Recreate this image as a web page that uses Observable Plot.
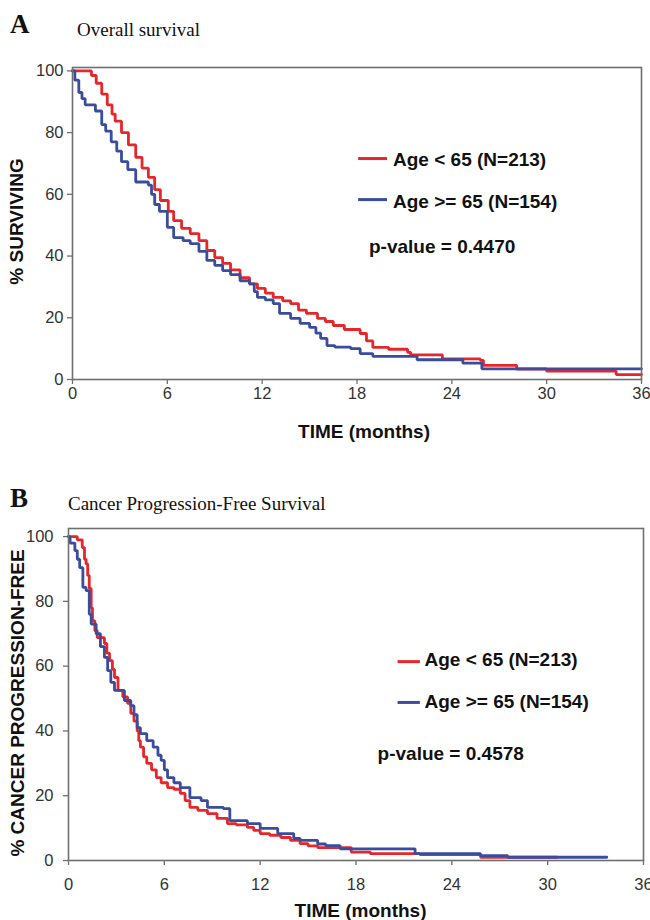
<!DOCTYPE html>
<html>
<head>
<meta charset="utf-8">
<script src="https://cdn.jsdelivr.net/npm/d3@7"></script>
<script src="https://cdn.jsdelivr.net/npm/@observablehq/plot@0.6"></script>
<style>
  html, body { margin: 0; padding: 0; background: #fff; }
  #root { position: relative; width: 650px; height: 920px; overflow: hidden; }
  .panel { position: absolute; left: 0; }
  .hdr { position: absolute; white-space: nowrap; line-height: 1; font-family: "Liberation Serif", "Times New Roman", serif; color: #111; }
  .letter { font-weight: bold; font-size: 27px; }
  .ttl { font-size: 19px; }
</style>
</head>
<body>
<div id="root">
  <div id="panelA" class="panel" style="top:0px;"></div>
  <div id="panelB" class="panel" style="top:460px;"></div>
  <div class="hdr letter" style="left:10px; top:10.5px;">A</div>
  <div class="hdr ttl" style="left:77px; top:20px;">Overall survival</div>
  <div class="hdr letter" style="left:10px; top:484.5px;">B</div>
  <div class="hdr ttl" style="left:68px; top:494px;">Cancer Progression-Free Survival</div>
</div>
<script>
// ---------- data ----------
const xTicks = [0, 6, 12, 18, 24, 30, 36];
const yTicks = [0, 20, 40, 60, 80, 100];
const seriesNames = ["Age < 65 (N=213)", "Age >= 65 (N=154)"];
const xTitle = "TIME (months)";
const yTitleA = "% SURVIVING";
const yTitleB = "% CANCER PROGRESSION-FREE";
const pValueA = "p-value = 0.4470";
const pValueB = "p-value = 0.4578";

// Panel A: overall survival (months, % surviving)
const aRedTime = [0, 1.2, 1.5, 1.85, 2.2, 2.5, 2.7, 3.1, 3.54, 4.0, 4.4, 4.8, 5.2, 5.56, 6.06, 6.4, 6.9, 7.45, 8.0, 8.5, 9.0, 9.5, 10.0, 10.6, 11.2, 11.7, 12.2, 12.7, 13.3, 13.8, 14.3, 14.8, 15.5, 16.0, 16.5, 17.2, 18.2, 18.6, 19.0, 20.0, 21.2, 21.4, 23.4, 25.8, 26.0, 28.1, 30.0, 34.4, 36];
const aRedSurv = [100, 98.5, 96, 92.5, 89, 86, 83.7, 80, 76, 72, 68.5, 65.5, 61.5, 58, 54.5, 51.5, 49, 47.3, 45, 41.8, 39.5, 37.6, 35.5, 33, 31, 29.5, 28, 26.6, 25.5, 24.6, 22.5, 21.4, 19.8, 18.8, 17.5, 16.2, 14.9, 12.5, 10.4, 9.8, 8.8, 8.0, 6.7, 6.2, 4.6, 3.4, 2.7, 1.6, 1.6];
const aBlueTime = [0, 0.15, 0.4, 0.6, 0.8, 1.45, 1.85, 2.1, 2.45, 2.8, 3.1, 3.5, 4.0, 4.8, 5.0, 5.2, 5.5, 6.0, 6.4, 7.0, 7.45, 8.0, 8.5, 9.0, 9.5, 10.0, 10.6, 11.2, 11.5, 11.7, 12.2, 12.7, 13.1, 13.8, 14.4, 15.0, 15.4, 15.7, 16.1, 16.6, 17.6, 18.2, 19.0, 21.8, 24.7, 25.9, 36];
const aBlueSurv = [100, 97, 93, 91, 89, 87, 82.6, 80.5, 77, 74, 70.6, 68, 64, 63, 60, 56.7, 54.5, 49.3, 46, 45, 44, 41.5, 38.6, 37, 35.3, 34, 32, 31, 28.5, 26.6, 25.8, 24.6, 21.4, 19.8, 18.2, 16.9, 15, 13.3, 11, 10.5, 10, 8.4, 7.5, 6.4, 5.3, 3.45, 3.45];

// Panel B: cancer progression-free survival
const bRedTime = [0, 0.55, 0.86, 1.0, 1.1, 1.2, 1.3, 1.42, 1.5, 1.65, 1.8, 2.25, 2.4, 2.57, 2.75, 2.88, 3.1, 3.4, 3.7, 3.9, 4.1, 4.3, 4.4, 4.5, 4.7, 4.9, 5.2, 5.5, 5.8, 6.2, 6.6, 7.0, 7.3, 7.6, 8.1, 8.7, 9.3, 9.95, 10.5, 11.2, 11.6, 12.0, 12.6, 13.3, 13.9, 14.5, 15.0, 15.6, 17.7, 18.9, 22.0, 25.8, 30.6];
const bRedSurv = [100, 99, 96.6, 93, 91.6, 88, 84, 78, 74, 71, 68.8, 67, 64, 61.7, 59, 56.5, 52.5, 50.5, 48.5, 45.4, 43, 40, 37, 35, 32, 30, 28, 25.6, 24, 22.5, 22, 20.7, 18.5, 16.4, 15.5, 14.5, 13, 11.4, 11, 10.2, 9.3, 8.3, 7.8, 7.1, 6.2, 5.2, 4.5, 4.0, 2.6, 2.1, 1.8, 1.0, 1.0];
const bBlueTime = [0, 0.1, 0.4, 0.55, 0.7, 0.9, 1.1, 1.3, 1.42, 1.73, 2.0, 2.25, 2.45, 2.65, 2.88, 3.5, 3.9, 4.1, 4.3, 4.5, 4.9, 5.3, 5.6, 5.8, 6.0, 6.2, 6.6, 7.0, 7.6, 8.3, 8.7, 9.7, 10.1, 11.2, 12.0, 13.1, 14.1, 14.5, 15.6, 16.1, 17.0, 21.7, 25.8, 27.5, 33.7];
const bBlueSurv = [100, 98, 95.7, 93, 90.4, 84.3, 83.3, 76, 73, 70, 66, 62.7, 58.6, 55, 52.5, 49.4, 47.8, 45, 41, 39.2, 37, 35, 32.5, 30.9, 28, 25.6, 24, 22.5, 19.4, 18.5, 16.4, 16, 12.3, 11.4, 9.9, 8.3, 6.8, 6.2, 5.1, 4.6, 3.6, 2.1, 1.5, 1.0, 1.0];

const colors = ["#e5262b", "#3a4d9d"];

// ---------- helpers ----------
function rows(times, surv, series) {
  return times.map((t, i) => ({time: t, surv: surv[i], series}));
}

function panel(cfg) {
  const data = [
    ...rows(cfg.redT, cfg.redS, seriesNames[0]),
    ...rows(cfg.blueT, cfg.blueS, seriesNames[1])
  ];
  const legend = seriesNames.map((name, i) => ({
    name, x1: cfg.keyX1, x2: cfg.keyX2, ky: cfg.keyY[i], tx: cfg.textX, ty: cfg.textY[i]
  }));
  const labelFont = {fontFamily: "'Liberation Sans', Arial, sans-serif", fontWeight: "bold", fontSize: 19, fill: "#111"};
  return Plot.plot({
    width: 650,
    height: cfg.height,
    marginLeft: cfg.ml, marginRight: cfg.mr, marginTop: cfg.mt, marginBottom: cfg.mb,
    style: {fontFamily: "'Liberation Sans', Arial, sans-serif", fontSize: "16.5px", background: "transparent", overflow: "visible"},
    x: {domain: [0, 36]},
    y: {domain: [0, cfg.yMax]},
    color: {domain: seriesNames, range: colors},
    marks: [
      Plot.axisX({ticks: xTicks, tickSize: 5, tickPadding: cfg.xPad, stroke: "#6f6f6f", fill: "#333", label: null, strokeWidth: 1.3}),
      Plot.axisY({ticks: yTicks, tickSize: 5, tickPadding: cfg.yPad, stroke: "#6f6f6f", fill: "#333", label: null, strokeWidth: 1.3}),
      Plot.line(data, {x: "time", y: "surv", z: "series", stroke: "series", curve: "step-after", strokeWidth: 2.8, strokeLinejoin: "miter"}),
      Plot.frame({stroke: "#6f6f6f", strokeWidth: 1.6}),
      Plot.link(legend, {x1: "x1", x2: "x2", y1: "ky", y2: "ky", stroke: "name", strokeWidth: 3}),
      Plot.text(legend, {x: "tx", y: "ty", text: "name", textAnchor: "start", ...labelFont}),
      Plot.text([cfg.pText], {x: cfg.pX, y: cfg.pY, text: d => d, textAnchor: "start", ...labelFont}),
      Plot.text([xTitle], {frameAnchor: "bottom", dx: cfg.xtDx, dy: cfg.xtDy, text: d => d, textAnchor: "middle", lineAnchor: "middle", ...labelFont}),
      Plot.text([cfg.yTitle], {frameAnchor: "left", dx: cfg.ytDx, dy: cfg.ytDy, rotate: -90, text: d => d, textAnchor: "middle", lineAnchor: "middle", ...labelFont})
    ]
  });
}

document.getElementById("panelA").appendChild(panel({
  height: 445, ml: 72, mr: 9, mt: 67, mb: 66, yMax: 101.1,
  xPad: 3, yPad: 4,
  redT: aRedTime, redS: aRedSurv, blueT: aBlueTime, blueS: aBlueSurv,
  keyX1: 18.07, keyX2: 19.9, keyY: [71.6, 58.3], textX: 20.28, textY: [71.0, 57.6],
  pText: pValueA, pX: 18.76, pY: 42.9,
  xtDx: 7, xtDy: 52.5, yTitle: yTitleA, ytDx: -55.5, ytDy: -2
}));

document.getElementById("panelB").appendChild(panel({
  height: 460, ml: 68, mr: 7, mt: 68, mb: 60, yMax: 102.5,
  xPad: 13, yPad: 10,
  redT: bRedTime, redS: bRedSurv, blueT: bBlueTime, blueS: bBlueSurv,
  keyX1: 20.6, keyX2: 22.0, keyY: [61.4, 48.8], textX: 22.29, textY: [61.8, 48.9],
  pText: pValueB, pX: 19.35, pY: 32.9,
  xtDx: 4.5, xtDy: 50, yTitle: yTitleB, ytDx: -50.5, ytDy: 8.5
}));
</script>
</body>
</html>
